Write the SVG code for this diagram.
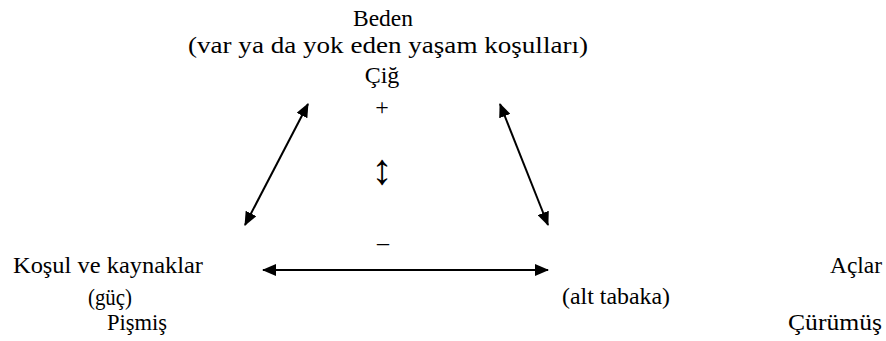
<svg xmlns="http://www.w3.org/2000/svg" width="886" height="341" viewBox="0 0 886 341">
<style>
.t{fill:#000;font-family:'Liberation Serif','Times New Roman',serif;font-size:24px}
.c{text-anchor:middle}
.l{stroke:#000;stroke-width:2;fill:none}
</style>
<defs>
<marker id="ah" viewBox="0 0 14 12" refX="13" refY="6" markerWidth="14" markerHeight="12" markerUnits="userSpaceOnUse" orient="auto-start-reverse">
<path d="M0,0 L14,6 L0,12 Z" fill="#000"/>
</marker>
</defs>
<rect width="886" height="341" fill="#fff"/>
<g id="beden" class="t">
<text class="c" x="383" y="26" textLength="60" lengthAdjust="spacingAndGlyphs">Beden</text>
<text class="c" x="388" y="53" textLength="400" lengthAdjust="spacingAndGlyphs">(var ya da yok eden yaşam koşulları)</text>
<text class="c" x="382" y="83">Çiğ</text>
<text class="c" x="382" y="115">+</text>
</g>
<g id="kosul" class="t">
<text x="13" y="273" textLength="190" lengthAdjust="spacingAndGlyphs">Koşul ve kaynaklar</text>
<text x="88" y="305" textLength="44" lengthAdjust="spacingAndGlyphs">(güç)</text>
<text x="107" y="330" textLength="60" lengthAdjust="spacingAndGlyphs">Pişmiş</text>
</g>
<g id="altabaka" class="t">
<text x="562" y="304" textLength="108" lengthAdjust="spacingAndGlyphs">(alt tabaka)</text>
</g>
<g id="aclar" class="t">
<text x="830" y="273" textLength="52" lengthAdjust="spacingAndGlyphs">Açlar</text>
<text x="788" y="330" textLength="94" lengthAdjust="spacingAndGlyphs">Çürümüş</text>
</g>
<g id="mid" fill="#000">
<text x="382" y="184" text-anchor="middle" font-family="serif" font-size="43">↕</text>
<text class="t c" x="383" y="250">–</text>
</g>
<g id="connectors">
<line class="l" x1="245" y1="225" x2="308" y2="104" marker-start="url(#ah)" marker-end="url(#ah)"/>
<line class="l" x1="500" y1="104" x2="548" y2="225" marker-start="url(#ah)" marker-end="url(#ah)"/>
<line class="l" x1="263" y1="270" x2="548" y2="270" marker-start="url(#ah)" marker-end="url(#ah)"/>
</g>
</svg>
